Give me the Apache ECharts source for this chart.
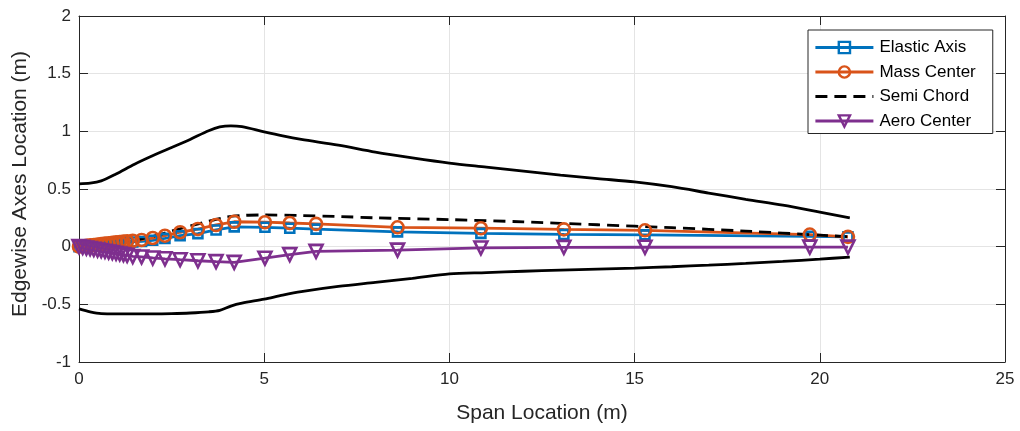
<!DOCTYPE html>
<html>
<head>
<meta charset="utf-8">
<script src="https://cdn.jsdelivr.net/npm/echarts@6/dist/echarts.min.js"></script>
<style>html,body{margin:0;padding:0;background:#fff;}#c{width:1020px;height:431px;}</style>
</head>
<body>
<div id="c"></div>
<script>
// ---- data ----
var xTicks = [0, 5, 10, 15, 20, 25];
var yTicks = [-1, -0.5, 0, 0.5, 1, 1.5, 2];

var stationSpan = [0, 0.1, 0.2, 0.3, 0.4, 0.5, 0.6, 0.7, 0.8, 0.9, 1.0, 1.1, 1.2, 1.3, 1.45, 1.69, 1.99, 2.32, 2.73, 3.21, 3.70, 4.19, 5.02, 5.69, 6.40, 8.60, 10.85, 13.09, 15.28, 19.73, 20.76];
var elasticAxis = [0, 0.002, 0.005, 0.009, 0.012, 0.014, 0.018, 0.021, 0.023, 0.027, 0.030, 0.032, 0.035, 0.038, 0.041, 0.045, 0.055, 0.072, 0.095, 0.113, 0.145, 0.172, 0.168, 0.160, 0.152, 0.128, 0.115, 0.106, 0.102, 0.090, 0.085];
var massCenter = [0, 0.004, 0.008, 0.011, 0.015, 0.019, 0.022, 0.026, 0.030, 0.033, 0.037, 0.040, 0.044, 0.047, 0.051, 0.058, 0.075, 0.095, 0.125, 0.153, 0.188, 0.216, 0.212, 0.205, 0.198, 0.168, 0.160, 0.150, 0.142, 0.105, 0.085];
var aeroCenter = [0, -0.006, -0.012, -0.017, -0.023, -0.029, -0.034, -0.040, -0.046, -0.052, -0.057, -0.063, -0.069, -0.075, -0.085, -0.089, -0.098, -0.105, -0.113, -0.122, -0.130, -0.136, -0.100, -0.069, -0.041, -0.030, -0.011, -0.006, -0.005, -0.004, -0.004];

var semiSpan = [0, 0.5, 1.0, 1.5, 2.0, 2.5, 3.0, 3.5, 4.0, 4.5, 5.0, 6.0, 7.0, 8.0, 10.0, 12.0, 14.0, 16.0, 18.0, 20.0, 20.81];
var semiChord = [0, 0, 0.025, 0.055, 0.09, 0.135, 0.18, 0.22, 0.258, 0.272, 0.275, 0.27, 0.262, 0.25, 0.235, 0.215, 0.19, 0.165, 0.135, 0.10, 0.085];

var edgeSpan = [0, 0.3, 0.6, 1.0, 1.5, 2.0, 2.5, 3.0, 3.5, 3.8, 4.1, 4.4, 5.0, 5.5, 6.0, 7.0, 8.0, 9.0, 10, 11, 12, 13, 14, 15, 16, 17, 18, 19, 20, 20.81];
var upperEdge = [0.545, 0.55, 0.57, 0.63, 0.715, 0.79, 0.86, 0.93, 1.005, 1.038, 1.048, 1.04, 0.995, 0.96, 0.93, 0.88, 0.82, 0.77, 0.725, 0.69, 0.655, 0.62, 0.59, 0.562, 0.52, 0.465, 0.41, 0.36, 0.30, 0.25];
var lowerEdge = [-0.54, -0.565, -0.58, -0.582, -0.582, -0.582, -0.58, -0.575, -0.565, -0.552, -0.515, -0.49, -0.455, -0.42, -0.39, -0.345, -0.31, -0.275, -0.236, -0.225, -0.213, -0.204, -0.195, -0.186, -0.174, -0.16, -0.145, -0.128, -0.108, -0.09];

// ---- chart ----
function pairs(xs, ys) { return xs.map(function (x, i) { return [x, ys[i]]; }); }
var FONT = "'Liberation Sans', Arial, Helvetica, sans-serif";
var AX = '#262626';
var GRID = '#e4e4e4';
var BLUE = '#0072BD', ORANGE = '#D95319', PURPLE = '#7E2F8E';
var LW = 2.8;

var chart = echarts.init(document.getElementById('c'), null, { renderer: 'canvas' });

function valueAxisBase(min, max, interval) {
  return {
    type: 'value', min: min, max: max, interval: interval,
    axisLine: { show: true, onZero: false, lineStyle: { color: AX, width: 1 } },
    axisTick: { show: true, inside: true, length: 9, lineStyle: { color: AX, width: 1 } },
    splitLine: { show: false }
  };
}

var xMain = valueAxisBase(xTicks[0], xTicks[xTicks.length - 1], xTicks[1] - xTicks[0]);
xMain.position = 'bottom';
xMain.splitLine = { show: true, lineStyle: { color: GRID, width: 1 } };
xMain.axisLabel = { color: AX, fontSize: 17, fontFamily: FONT, margin: 9 };
xMain.name = 'Span Location (m)';
xMain.nameLocation = 'middle';
xMain.nameGap = 41;
xMain.nameTextStyle = { color: AX, fontSize: 21, fontFamily: FONT };

var xTop = valueAxisBase(xTicks[0], xTicks[xTicks.length - 1], xTicks[1] - xTicks[0]);
xTop.position = 'top';
xTop.axisLabel = { show: false };

var yMain = valueAxisBase(yTicks[0], yTicks[yTicks.length - 1], yTicks[1] - yTicks[0]);
yMain.position = 'left';
yMain.splitLine = { show: true, lineStyle: { color: GRID, width: 1 } };
yMain.axisLabel = { color: AX, fontSize: 17, fontFamily: FONT, margin: 8,
  formatter: function (v) { return String(Math.round(v * 10) / 10); } };
yMain.name = 'Edgewise Axes Location (m)';
yMain.nameLocation = 'middle';
yMain.nameGap = 47;
yMain.nameTextStyle = { color: AX, fontSize: 21, fontFamily: FONT, padding: [0, 0, 0, 10] };

var yRight = valueAxisBase(yTicks[0], yTicks[yTicks.length - 1], yTicks[1] - yTicks[0]);
yRight.position = 'right';
yRight.axisLabel = { show: false };

function markerSeries(name, color, symbol, size, data, rotate) {
  return {
    name: name, type: 'line', xAxisIndex: 0, yAxisIndex: 0,
    data: data, symbol: symbol, symbolSize: size, symbolRotate: rotate || 0,
    showSymbol: true, showAllSymbol: true,
    lineStyle: { color: color, width: LW },
    itemStyle: { color: 'rgba(255,255,255,0)', borderColor: color, borderWidth: 2.6 },
    emphasis: { disabled: true },
    z: 3
  };
}

chart.setOption({
  animation: false,
  backgroundColor: '#ffffff',
  grid: { left: 79, right: 15, top: 16, bottom: 69, containLabel: false },
  xAxis: [xMain, xTop],
  yAxis: [yMain, yRight],
  legend: {
    data: [
      { name: 'Elastic Axis' },
      { name: 'Mass Center' },
      { name: 'Semi Chord', itemStyle: { opacity: 0 } },
      { name: 'Aero Center' }
    ],
    orient: 'vertical', left: 808, top: 30,
    backgroundColor: '#ffffff', borderColor: AX, borderWidth: 1,
    padding: [9, 17, 4, 6], itemGap: 7.5, itemWidth: 58, itemHeight: 14,
    lineStyle: { width: LW },
    itemStyle: { borderWidth: 2.4 },
    textStyle: { color: '#000', fontSize: 17, fontFamily: FONT, padding: [0, 0, 0, 1] },
    selectedMode: false
  },
  series: [
    { name: 'upper', type: 'line', data: pairs(edgeSpan, upperEdge), symbol: 'none', smooth: 0.3,
      lineStyle: { color: '#000', width: LW }, emphasis: { disabled: true }, z: 2 },
    { name: 'lower', type: 'line', data: pairs(edgeSpan, lowerEdge), symbol: 'none', smooth: 0.3,
      lineStyle: { color: '#000', width: LW }, emphasis: { disabled: true }, z: 2 },
    markerSeries('Elastic Axis', BLUE, 'rect', 9, pairs(stationSpan, elasticAxis)),
    markerSeries('Mass Center', ORANGE, 'circle', 12, pairs(stationSpan, massCenter)),
    { name: 'Semi Chord', type: 'line', data: pairs(semiSpan, semiChord), symbol: 'none', smooth: 0.2,
      lineStyle: { color: '#000', width: LW, type: [12, 7] },
      itemStyle: { color: '#000' }, emphasis: { disabled: true }, z: 3 },
    markerSeries('Aero Center', PURPLE, 'triangle', 13, pairs(stationSpan, aeroCenter), 180)
  ]
});
</script>
</body>
</html>
